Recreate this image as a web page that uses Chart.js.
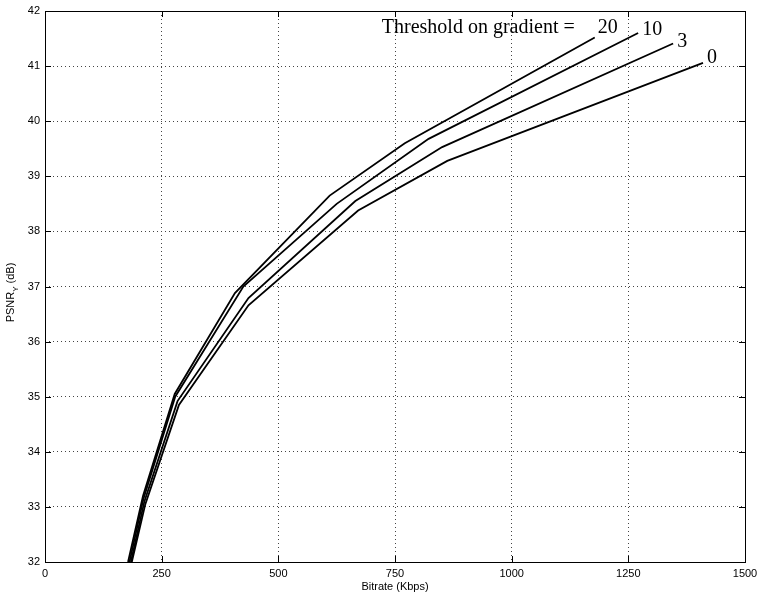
<!DOCTYPE html>
<html>
<head>
<meta charset="utf-8">
<script src="https://cdn.jsdelivr.net/npm/chart.js@4/dist/chart.umd.min.js"></script>
<style>
  body { margin: 0; background: #fff; }
  #wrap { width: 758px; height: 594px; }
</style>
</head>
<body>
<div id="wrap"><canvas id="psnrChart" width="758" height="594"></canvas></div>
<script>
// rate-distortion curves, one per gradient threshold
const thresholds = ['20', '10', '3', '0'];
const bitrate20 = [178, 210, 278, 407, 610, 771, 1178];
const psnr20    = [32.0, 33.2, 35.05, 36.88, 38.65, 39.6, 41.52];
const bitrate10 = [181, 211, 279, 425, 625, 822, 1271];
const psnr10    = [32.0, 33.15, 35.0, 37.0, 38.5, 39.68, 41.6];
const bitrate3  = [184, 213, 284, 436, 665, 851, 1346];
const psnr3     = [32.0, 33.1, 34.92, 36.79, 38.55, 39.53, 41.41];
const bitrate0  = [186, 215, 287, 436, 671, 862, 1410];
const psnr0     = [32.0, 33.05, 34.85, 36.66, 38.38, 39.28, 41.06];
const xTicks = [0, 250, 500, 750, 1000, 1250, 1500];
const yTicks = [32, 33, 34, 35, 36, 37, 38, 39, 40, 41, 42];

const curves = [[bitrate20, psnr20], [bitrate10, psnr10], [bitrate3, psnr3], [bitrate0, psnr0]];
// small nudges of the threshold labels from each line end (px)
const labelNudge = [[3, -10], [4, -3], [4, -2], [4, -5]];

const toPoints = (xs, ys) => xs.map((x, i) => ({ x: x, y: ys[i] }));

const matlabFrame = {
    id: 'matlabFrame',
    afterDatasetsDraw(chart) {
        const ctx = chart.ctx;
        const a = chart.chartArea;
        const xs = chart.scales.x, ys = chart.scales.y;
        ctx.save();
        ctx.strokeStyle = '#000';
        ctx.lineWidth = 1;
        ctx.strokeRect(Math.round(a.left) + 0.5, Math.round(a.top) + 0.5,
            Math.round(a.right - a.left), Math.round(a.bottom - a.top));
        // inward tick marks on all four sides
        ctx.beginPath();
        xTicks.forEach(v => {
            const px = Math.round(xs.getPixelForValue(v)) + 0.5;
            ctx.moveTo(px, a.bottom); ctx.lineTo(px, a.bottom - 6);
            ctx.moveTo(px, a.top); ctx.lineTo(px, a.top + 6);
        });
        yTicks.forEach(v => {
            const py = Math.round(ys.getPixelForValue(v)) + 0.5;
            ctx.moveTo(a.left, py); ctx.lineTo(a.left + 6, py);
            ctx.moveTo(a.right, py); ctx.lineTo(a.right - 6, py);
        });
        ctx.stroke();

        // threshold labels at the line ends
        ctx.fillStyle = '#000';
        ctx.font = '20px "Liberation Serif", "DejaVu Serif", serif';
        ctx.textBaseline = 'middle';
        let firstX = 0, firstY = 0;
        curves.forEach((c, i) => {
            const n = c[0].length - 1;
            const px = xs.getPixelForValue(c[0][n]) + labelNudge[i][0];
            const py = ys.getPixelForValue(c[1][n]) + labelNudge[i][1];
            ctx.textAlign = 'left';
            ctx.fillText(thresholds[i], px, py);
            if (i === 0) { firstX = px; firstY = py; }
        });
        ctx.textAlign = 'right';
        ctx.fillText('Threshold on gradient =', firstX - 23, firstY);

        // axis titles
        ctx.font = '11px "Liberation Sans", Arial, sans-serif';
        ctx.textAlign = 'center';
        ctx.textBaseline = 'alphabetic';
        ctx.fillText('Bitrate (Kbps)', (a.left + a.right) / 2, 590);

        ctx.translate(14, (a.top + a.bottom) / 2 + 6);
        ctx.rotate(-Math.PI / 2);
        ctx.textAlign = 'left';
        const w1 = ctx.measureText('PSNR').width;
        ctx.font = '8px "Liberation Sans", Arial, sans-serif';
        const w2 = ctx.measureText('Y').width;
        ctx.font = '11px "Liberation Sans", Arial, sans-serif';
        const w3 = ctx.measureText(' (dB)').width;
        let x0 = -(w1 + w2 + w3) / 2;
        ctx.fillText('PSNR', x0, 0);
        ctx.font = '8px "Liberation Sans", Arial, sans-serif';
        ctx.fillText('Y', x0 + w1, 4);
        ctx.font = '11px "Liberation Sans", Arial, sans-serif';
        ctx.fillText(' (dB)', x0 + w1 + w2, 0);
        ctx.restore();
    }
};

const ctx = document.getElementById('psnrChart').getContext('2d');
new Chart(ctx, {
    type: 'scatter',
    data: {
        datasets: curves.map((c, i) => ({
            label: thresholds[i],
            data: toPoints(c[0], c[1]),
            showLine: true,
            borderColor: '#000',
            backgroundColor: '#000',
            borderWidth: 1.8,
            pointRadius: 0,
            tension: 0
        }))
    },
    options: {
        responsive: false,
        animation: false,
        devicePixelRatio: 1,
        layout: { padding: { left: 0, right: 13, top: 11, bottom: 0 } },
        plugins: {
            legend: { display: false },
            tooltip: { enabled: false }
        },
        scales: {
            x: {
                type: 'linear',
                min: 0,
                max: 1500,
                afterBuildTicks: s => { s.ticks = xTicks.map(v => ({ value: v })); },
                afterFit: s => { s.height = 32; s.paddingLeft = 0; s.paddingRight = 0; },
                grid: { color: '#444', lineWidth: 1, drawTicks: false },
                border: { display: false, dash: [1, 3] },
                ticks: { color: '#000', padding: 5, maxRotation: 0,
                    callback: v => String(v),
                    font: { family: '"Liberation Sans", Arial, sans-serif', size: 11 } }
            },
            y: {
                type: 'linear',
                min: 32,
                max: 42,
                afterBuildTicks: s => { s.ticks = yTicks.map(v => ({ value: v })); },
                afterFit: s => { s.width = 45; s.paddingTop = 0; s.paddingBottom = 0; },
                grid: { color: '#444', lineWidth: 1, drawTicks: false },
                border: { display: false, dash: [1, 3] },
                ticks: { color: '#000', padding: 5,
                    callback: v => String(v),
                    font: { family: '"Liberation Sans", Arial, sans-serif', size: 11 } }
            }
        }
    },
    plugins: [matlabFrame]
});
</script>
</body>
</html>
